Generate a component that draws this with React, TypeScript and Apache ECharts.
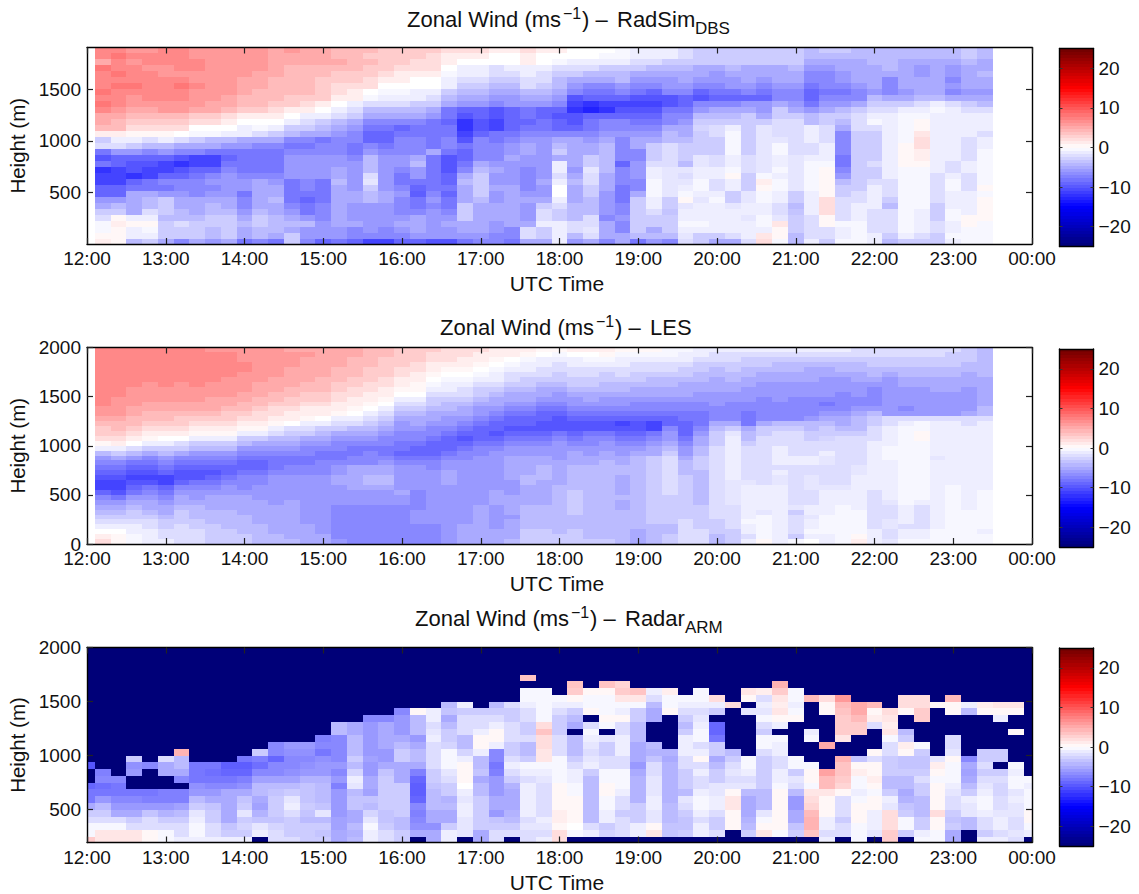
import React, { useEffect, useRef } from "react";
import * as echarts from "echarts";

const timeLabels = ["12:00","13:00","14:00","15:00","16:00","17:00","18:00","19:00","20:00","21:00","22:00","23:00","00:00"];
const colorbarTicks = [-20, -10, 0, 10, 20];
const N = -25;

// RadSim DBS: rows (top to bottom) for columns 1..30
const radsimRowsLeft = [
[7,7,6,6,7,7,6,6,6,6,6,5,6,5,5,4,4,4,3,3,3,3,2,2,2,1,1,2,1,1],
[7,8,7,7,7,7,6,6,6,6,6,5,5,5,5,4,4,3,3,3,3,2,1,1,1,0,0,1,0,0],
[5,7,6,7,7,7,7,6,6,6,6,5,5,5,5,5,4,4,3,3,2,2,1,0,0,0,0,1,0,-.5],
[8,7,7,6,6,7,7,6,6,6,6,5,4,4,4,4,4,3,3,2,2,2,0,-1,-1,-2,-1,-1,-1,-2],
[7,8,7,7,6,6,6,6,6,6,5,5,4,4,4,3,3,3,2,1,1,1,-.5,-1,-1,-2,-2,-1,-2,-3],
[7,7,7,7,7,7,6,6,6,5,5,4,4,4,3,3,3,2,1,1,0,0,-1,-2,-2,-3,-3,-2,-2,-4],
[7,8,8,7,7,8,7,6,6,5,5,4,4,4,3,2,2,2,0,0,0,0,-1,-3,-3,-4,-4,-2,-3,-4],
[8,7,7,7,7,7,6,6,6,5,4,4,4,4,3,2,1,0,-.5,-.5,-1,-1,-3,-4,-4,-5,-5,-4,-4,-5],
[7,7,6,7,7,7,6,6,5,4,4,4,3,3,3,1,1,-.5,-1,-1,-1,-2,-4,-5,-5,-6,-6,-5,-5,-6],
[8,7,6,6,6,6,6,5,5,4,4,3,3,2,1,0,-1,-2,-2,-2,-3,-3,-5,-6,-6,-7,-6,-6,-6,-7],
[7,6,5,5,6,6,5,5,4,3,3,2,1,1,0,-1,-2,-4,-4,-4,-4,-5,-8,-9,-9,-10,-9,-8,-9,-9],
[5,5,4,4,4,4,3,3,2,1,1,1,0,-1,-1,-2,-3,-5,-5,-5,-5,-6,-8,-10,-9,-10,-9,-8,-9,-10],
[5,4,3,3,3,3,2,2,1,0,0,0,-1,-2,-3,-4,-5,-7,-7,-7,-7,-8,-9,-12,-10,-11,-9,-9,-8,-9],
[4,4,2,2,2,2,0,0,0,-1,-.5,-1,-3,-3,-4,-5,-6,-8,-8,-9,-8,-8,-8,-12,-10,-11,-9,-8,-8,-9],
[1,1,.5,.5,.5,0,-.5,-.5,-1,-1,-2,-3,-4,-5,-5,-6,-7,-9,-9,-8,-8,-8,-8,-11,-9,-8,-8,-7,-7,-7],
[-3,-1,-1,-2,-1,-2,-3,-4,-4,-5,-5,-5,-7,-7,-8,-7,-7,-9,-9,-7,-7,-8,-7,-10,-7,-8,-7,-6,-6,-5],
[-2,-2,-3,-4,-4,-5,-5,-5,-6,-6,-7,-7,-8,-8,-7,-7,-8,-7,-8,-7,-7,-8,-7,-8,-7,-7,-6,-5,-6,-4],
[-8,-6,-6,-7,-6,-7,-7,-8,-8,-8,-8,-8,-7,-7,-7,-7,-8,-6,-7,-7,-7,-5,-8,-9,-7,-7,-6,-5,-6,-3],
[-10,-9,-9,-9,-9,-10,-11,-11,-9,-8,-8,-8,-6,-6,-6,-6,-7,-4,-6,-6,-5,-8,-10,-9,-7,-7,-5,-6,-6,-5],
[-8,-9,-10,-10,-11,-12,-11,-11,-8,-8,-8,-8,-6,-6,-6,-6,-6,-4,-6,-6,-4,-8,-10,-8,-5,-6,-6,-6,-6,-1],
[-12,-11,-10,-11,-11,-10,-9,-9,-7,-8,-8,-8,-6,-6,-6,-5,-6,-4,-6,-7,-6,-8,-10,-7,-4,-5,-6,-7,-6,-1],
[-11,-11,-12,-11,-9,-9,-8,-7,-6,-7,-7,-7,-6,-6,-6,-5,-6,-2,-6,-8,-6,-8,-9,-5,-3,-6,-6,-7,-6,-2],
[-11,-11,-9,-8,-7,-7,-7,-6,-6,-6,-5,-6,-8,-7,-8,-4,-6,-1.5,-6,-8,-8,-8,-9,-4,-3,-6,-6,-7,-5,-1],
[-9,-9,-8,-8,-8,-7,-7,-7,-6,-6,-5,-5,-8,-7,-8,-5,-6,-3,-6,-7,-9,-8,-8,-5,-3,-5,-5,-7,-6,0],
[-9,-9,-5,-5,-6,-6,-7,-6,-6,-8,-5,-5,-8,-8,-8,-5,-5,-4,-5,-6,-9.5,-7,-9,-5,-3,-6,-5,-6,-6,0],
[-6,-6,-5,-4,-3,-5,-5,-5,-5,-7,-5,-4,-8,-9,-8,-5,-5,-4,-5,-7,-8,-6,-8,-5,-4,-6,-5,-5,-5,-1],
[-5,-4,-5,-4,-3,-5,-5,-4,-5,-7,-5,-5,-7,-8,-7,-5,-6,-6,-6,-7,-8,-7,-8,-3,-5,-5,-5,-6,-3,-2],
[-3,-3,-5,-2,-3,-4,-5,-4,-4,-6,-4,-5,-6,-8,-7,-5,-6,-6,-6,-7,-7,-6,-7,-3,-5,-5,-5,-6,-2,-3],
[-2,.5,-1,-1,-4,-4,-4,-3,-3,-5,-3,-4,-5,-6,-7,-5,-6,-6,-6,-6,-5,-6,-6,-3,-5,-5,-5,-6,-2,-3],
[-.5,1,.5,.5,-3,-2,-3,-3,-3,-4,-3,-4,-4,-4,-6,-5,-5,-6,-6,-5,-5,-6,-5,-5,-5,-6,-5,-5,-1,-1],
[-.5,.5,-1,-.5,-3,-3,-3,-4,-3,-5,-4,-4,-5,-6,-6,-6,-7,-6,-7,-6,-5,-6,-6,-5,-5,-6,-7,-2,-3,-1],
[.5,.5,-1,-1,-3,-3,-3,-4,-3,-5,-4,-5,-3,-6,-6,-6,-7,-7,-7,-7,-6,-6,-6,-6,-6,-7,-7,-2,-3,-1],
[1,.5,-4,-3,-5,-7,-5,-6,-5,-8,-7,-8,-3,-7,-9,-8,-9,-11,-11,-9,-9,-10,-10,-8,-7,-7,-8,-5,-5,-1],
];

// RadSim DBS: columns 31..57, each top to bottom
const radsimColsRight = [
[0,0,-1,-2,-3,-5,-6,-7,-10,-11,-12,-10,-10,-9,-7,-5,-5,-5,-5,-5,-6,-5,-4,-5,-5,-5,-4,-4,-4,-2,-2,-4,-6],
[0,0,-1,-2,-4,-5,-7,-8,-9,-12,-13,-9,-8,-8,-7,-6,-5,-5,-3,-3,-1.5,-2,-2,-3,-3,-4,-4,-4,-2,-2,-1.5,-2,-5],
[0,-.5,-1,-3,-4,-5,-7,-8,-9,-11,-12,-9,-7,-7,-6,-5,-4,-4,-4,-4,-4,-5,-5,-5,-6,-6,-6,-6,-7,-5,-5,-5,-7],
[-.5,-.5,-1,-3,-4,-4,-6,-7,-9,-11,-10,-9,-7,-7,-6,-7,-7,-7,-7,-9,-7,-7,-7,-8,-8,-8,-7,-7,-6,-7,-7,-5,-5],
[-1,-1,-2,-3,-5,-6,-7,-8,-10,-11,-10,-9,-8,-7,-6,-5,-5,-7,-7,-6,-6,-6,-7,-7,-5,-3,-3,-3,-3,-3,-3,-4,-8],
[-1,-1,-2,-4,-5,-6,-7,-9,-10,-11,-10,-9,-8,-7,-6,-5,-3,-3,-3,-2,-1,-1,-.5,-.5,-.5,-1,-1,-2,-3,-3,-5,-4,-6],
[-1,-1,-3,-4,-5,-6,-6,-7,-10,-10,-8,-7,-7,-5,-4,-4,-2,-2,-2,-2,-1.5,-1.5,-1.5,-1.5,-1.5,-3,-3,-3.5,-3,-3,-3,-4,-7],
[-2,-2,-3,-4,-5,-5,-6,-7,-9,-9,-8,-7,-6,-5,-5,-4,-3,-3,-3,-4,-1.5,-2,-1.5,-1,-.5,.5,-1.5,-1,-1,-.5,-1,-1.5,-2],
[-3,-3,-3,-5,-5,-6,-7,-9,-10,-7,-6,-4,-3,-2.5,-3,-3,-3,-3,-1.5,-1.5,-1,-1,-.5,-.5,-1,-1.5,-1,-1,-1,-.5,-1,-3,-3],
[-3,-3,-3,-5,-6,-6,-7,-8,-9,-7,-5,-4,-3,-2,-2,-3,-3,-3,-2,-2,-1,-1,-2,-2,-1,-.5,-1,-1,-1,-1,-1,-3,-5],
[-3,-3,-3,-4,-5,-6,-6,-8,-9,-7,-5,-4,-3,-1,-.5,-.5,-.5,-.5,-1,-1,-.5,.5,-1,-1,-3,-3,-1.5,-1,-1,-1,-1,-2,-5],
[-3,-3,-3,-5,-5,-5,-6,-7,-9,-6,-5,-3,-3,-3,-3,-3,-3,-3,-2,-2,-2,-3,-3,-3,-1.5,-1.5,-1,-1,-1.5,-1,-1,-1,-2],
[-3,-3,-3,-5,-5,-6,-7,-8,-9,-6,-6,-5,-3,-1.5,-1.5,-1.5,-1.5,-1.5,-1.5,-1.5,-1.5,-.5,1,.5,-.5,-.5,-1,-1,-.5,-.5,-1,1.5,2],
[-3,-3,-3,-5,-5,-5,-6,-7,-7,-5,-3,-3,-2,-2,-2,-1.5,-.5,-.5,-1,-1,-.5,-1,-.5,-.5,-1,-1,-2,-2,-1.5,1.5,.5,.5,-.5],
[-3,-3,-3,-4,-5,-5,-6,-7,-7,-6,-5,-3,-2,-2,-2,-2,-2,-2,-1.5,-1.5,-1.5,-1.5,-1.5,-1.5,-3,-3,-4,-3.5,-3,-3,-3,-4,-4],
[-4,-4,-5,-6,-7,-7,-8,-9,-9,-8,-6,-4,-4,-1,-1,-1,-2,-2,-1,-.5,-.5,-.5,-.5,-.5,-1,-1,-1,-1,-2,-2,-2,-2,-1],
[-3,-4,-5,-6,-7,-7,-7,-8,-7,-6,-5,-3,-3,-2,-2,-2,-1,-1,-1,-.5,.5,.5,.5,.5,.5,2,2,2,.5,.5,-2,-2,-3],
[-3,-4,-5,-5,-6,-6,-7,-8,-7,-6,-4,-3,-4,-5,-7,-7,-7,-7,-8,-8,-7,-6,-4,-3,-3,-2,-2,-2,-2,-.5,-1,-1,-.5],
[-4,-4,-5,-5,-5,-5,-6,-7,-7,-5,-3,-2,-2,-2,-3,-3,-3,-3,-3,-3,-3,-3,-3,-3,-2,-2,-1,-1,-1,-.5,-.5,-.5,-.5],
[-4,-4,-4,-5,-5,-5,-5,-6,-4,-3,-2,-1,-.5,-2,-3,-3,-3,-3,-3,-2,-3,-3,-2,-1,-1,-1,-1,-2,-2,-2,-2,-1,-1],
[-4,-4,-4,-4,-5,-7,-7,-7,-5,-3,-2,-1,-1,-1,-1,-1,-1,-1,-1,-1,-1,-1,-2,-2,-2,-3,-4,-2,-2,-2,-2,-3,-4],
[-4,-4,-5,-5,-5,-5,-5,-6,-5,-3,-1,-.5,-.5,-.5,-.5,-.5,.5,.5,.5,.5,-.5,-.5,-.5,-.5,-.5,-.5,-.5,-.5,-.5,-.5,-.5,-1,-3],
[-4,-4,-5,-6,-6,-5,-5,-5,-4,-2,-1,-.5,.5,.5,1.5,2,2,1,1,.5,-.5,-.5,-.5,-.5,-.5,-.5,-.5,-1,-1,-1,-1,-2,-3],
[-4,-4,-5,-5,-5,-5,-5,-5,-4,-1,-.5,-1,-1,-1,-1,-1,-1,-1,-1,-1,-1,-2,-2,-2,-2,-2,-3,-3,-3,-2,-2,-3,-3],
[-4,-4,-5,-6,-6,-7,-6,-7,-5,-2,-1,-1,-1,-1,-1,-1,-1,-1,-1,-2,-2,-1,-.5,-.5,-1,-1,-1,-.5,-.5,-1,-1,-.5,-1],
[-3,-3,-4,-5,-5,-5,-5,-6,-5,-3,-2,-1,-1,-1,-1,-2,-2,-2,-2,-1,-1,-2,-2,-2,-1,-1,-1,-1,.5,.5,-.5,-.5,-.5],
[-4,-4,-5,-5,-4,-5,-5,-6,-5,-4,-2,-1,-1,-1,-2,-1,-1,-.5,-.5,-.5,-.5,-.5,-.5,.5,-.5,.5,.5,.5,.5,-.5,-.5,-.5,-.5],
];

// LES: columns 1..57, each top (1975 m) to bottom (25 m)
const lesCols = [
[7,7,7,7,7,7,7,7,7,7,7,7,6,6,5,4,3,3,2,.5,-1,-4,-6,-7,-8,-9,-10,-11,-11,-9,-7,-6,-5,-4,-3,-2,-1,0,1,2],
[7,7,7,7,7,7,7,7,7,7,6,6,6,6,5,4,4,3,2,1,-1,-3,-5,-7,-8,-9,-10,-11,-11,-10,-8,-6,-5,-4,-3,-2,-1,0,.5,.5],
[7,7,7,7,7,7,7,7,6,6,6,6,5,5,4,4,3,2,1,0,-2,-4,-6,-8,-9,-10,-11,-10,-9,-8,-6,-5,-4,-3,-3,-2,-1,-1,-.5,-.5],
[7,7,7,7,7,7,7,6,6,6,6,5,5,4,4,3,2,1,.5,-1,-3,-5,-7,-8,-9,-10,-11,-10,-8,-7,-6,-5,-5,-4,-3,-2,-2,-1,-1,-1],
[7,7,7,7,7,7,7,7,6,6,6,5,5,4,4,3,2,1,0,-1,-3,-4,-6,-7,-8,-9,-11,-11,-9,-8,-7,-6,-5,-5,-4,-3,-3,-2,-2,-1],
[7,7,7,7,7,7,7,6,6,6,6,5,5,4,3,3,2,1,0,-2,-3,-5,-7,-8,-9,-10,-10,-9,-7,-6,-5,-5,-4,-3,-3,-3,-2,-2,-2,-2],
[7,7,7,7,7,7,7,7,6,6,6,5,5,4,3,2,1,.5,-1,-3,-4,-6,-7,-8,-9,-10,-10,-8,-7,-6,-6,-5,-4,-4,-4,-3,-3,-2,-2,-2],
[6,7,7,7,7,7,7,6,6,6,5,5,5,4,3,2,1,.5,-1,-3,-4,-6,-7,-8,-9,-10,-9,-8,-7,-6,-5,-5,-5,-4,-4,-4,-3,-3,-3,-3],
[6,7,7,7,7,7,6,6,6,6,5,5,4,3,3,2,1,.5,-1,-3,-4,-6,-7,-8,-9,-9,-8,-7,-6,-6,-5,-5,-5,-4,-4,-4,-4,-3,-3,-3],
[6,6,6,7,7,6,6,6,6,5,5,4,4,3,2,1,.5,-1,-3,-4,-6,-7,-8,-9,-9,-8,-7,-7,-7,-6,-5,-5,-5,-5,-4,-4,-4,-4,-3,-3],
[6,6,6,6,6,6,6,5,5,5,4,4,3,2,2,1,.5,-1,-3,-5,-6,-7,-8,-9,-9,-8,-7,-7,-6,-6,-6,-5,-5,-5,-5,-5,-4,-4,-4,-4],
[6,6,6,6,6,6,5,5,5,4,4,3,2,2,1,.5,-1,-2,-4,-5,-6,-7,-8,-8,-8,-7,-6,-6,-6,-6,-6,-6,-5,-5,-5,-5,-5,-5,-4,-4],
[5,6,6,6,5,5,5,5,4,4,3,3,2,1,1,0,-2,-3,-4,-5,-6,-7,-8,-8,-7,-7,-6,-6,-6,-6,-6,-5,-5,-5,-5,-5,-5,-5,-5,-4],
[5,6,5,5,5,5,5,4,4,3,3,2,1,1,.5,-1,-2,-3,-5,-6,-7,-7,-8,-8,-7,-7,-6,-6,-6,-6,-6,-6,-6,-6,-6,-6,-5,-5,-5,-5],
[5,5,5,5,5,5,4,4,4,3,3,2,1,1,0,-1,-3,-4,-5,-6,-7,-8,-8,-7,-7,-7,-6,-6,-6,-6,-6,-6,-6,-6,-6,-6,-6,-6,-5,-5],
[5,5,5,5,4,4,4,3,3,2,2,1,1,.5,-1,-2,-3,-5,-6,-7,-7,-8,-8,-7,-6,-6,-5,-5,-6,-6,-6,-6,-7,-7,-7,-7,-7,-7,-7,-6],
[5,5,4,4,4,4,3,3,2,2,1,1,.5,0,-1,-2,-4,-5,-6,-7,-8,-8,-7,-7,-5,-5,-5,-5,-5,-6,-6,-6,-7,-7,-7,-7,-7,-7,-7,-7],
[4,4,4,4,3,3,3,2,2,1,1,.5,0,-1,-2,-3,-4,-5,-6,-7,-8,-7,-7,-7,-5,-5,-4,-4,-5,-6,-6,-6,-7,-7,-7,-7,-7,-7,-7,-7],
[4,4,3,3,3,3,2,2,1,1,.5,0,-1,-2,-3,-4,-5,-6,-7,-7,-8,-8,-7,-6,-5,-5,-4,-4,-5,-6,-6,-6,-7,-7,-7,-7,-7,-7,-7,-7],
[3,3,3,3,2,2,1,1,.5,0,-1,-2,-3,-4,-5,-6,-6,-7,-7,-8,-8,-9,-8,-7,-6,-6,-6,-6,-6,-5,-6,-6,-7,-7,-7,-7,-7,-7,-7,-7],
[3,3,3,2,2,1,1,.5,.5,0,-1,-2,-3,-4,-5,-5,-6,-7,-7,-8,-9,-9,-8,-7,-6,-6,-6,-6,-6,-7,-7,-7,-7,-6,-6,-6,-7,-7,-7,-7],
[3,2,2,1,1,.5,0,-.5,-1,-2,-3,-3,-4,-5,-5,-6,-7,-7,-8,-9,-9,-9,-8,-7,-7,-6,-6,-6,-6,-6,-6,-6,-6,-6,-6,-6,-7,-7,-7,-7],
[2,2,2,1,.5,0,-.5,-1,-1,-2,-3,-4,-4,-5,-6,-6,-7,-8,-9,-9,-9,-8,-7,-6,-6,-5,-5,-5,-6,-6,-6,-6,-6,-6,-6,-6,-6,-6,-6,-6],
[2,2,1,1,.5,0,-.5,-1,-2,-2,-3,-4,-5,-5,-6,-7,-8,-9,-10,-9,-8,-7,-7,-6,-6,-6,-6,-6,-6,-6,-6,-6,-6,-6,-6,-6,-5,-5,-5,-5],
[2,1,1,.5,0,-.5,-1,-2,-3,-3,-4,-5,-6,-6,-7,-8,-9,-9,-9,-8,-7,-7,-6,-6,-6,-6,-6,-6,-6,-6,-6,-6,-5,-5,-5,-5,-5,-5,-5,-5],
[1,1,.5,0,-.5,-1,-1,-2,-3,-4,-5,-5,-6,-7,-8,-9,-9,-10,-9,-8,-7,-6,-6,-6,-6,-6,-6,-6,-6,-5,-5,-5,-6,-6,-6,-6,-6,-5,-5,-5],
[1,1,0,-.5,-1,-2,-2,-3,-4,-5,-5,-6,-7,-8,-9,-9,-10,-9,-8,-7,-6,-6,-5,-5,-5,-5,-5,-6,-6,-6,-5,-5,-5,-5,-6,-5,-5,-5,-5,-4],
[1,.5,-.5,-1,-1,-2,-3,-3,-4,-5,-5,-6,-7,-8,-9,-9,-10,-9,-8,-7,-6,-6,-5,-5,-5,-5,-4,-4,-5,-5,-5,-5,-4,-4,-4,-4,-4,-3,-3,-3],
[.5,0,-1,-1,-2,-2,-3,-4,-5,-5,-6,-7,-8,-9,-9,-10,-10,-9,-8,-7,-6,-6,-5,-5,-4,-4,-4,-5,-5,-5,-5,-5,-4,-4,-4,-4,-4,-3,-3,-3],
[.5,-.5,-1,-2,-2,-3,-3,-4,-5,-6,-6,-7,-8,-9,-10,-10,-10,-8,-7,-6,-6,-6,-6,-5,-5,-5,-5,-5,-4,-4,-4,-4,-4,-4,-4,-4,-4,-4,-3,-3],
[1,0,-1,-1,-2,-2,-3,-3,-4,-5,-6,-6,-7,-8,-9,-10,-10,-9,-8,-7,-6,-5,-5,-5,-4,-4,-4,-4,-4,-3,-3,-3,-3,-3,-4,-4,-4,-3,-3,-3],
[1,0,-.5,-1,-2,-2,-3,-3,-4,-5,-5,-6,-7,-8,-9,-10,-10,-8,-7,-7,-6,-6,-5,-5,-4,-4,-4,-4,-4,-4,-4,-4,-4,-4,-4,-4,-4,-4,-4,-3],
[1,.5,-.5,-1,-2,-3,-3,-4,-4,-5,-6,-6,-7,-8,-9,-10,-10,-8,-7,-6,-6,-5,-5,-4,-4,-4,-4,-4,-4,-4,-4,-4,-4,-4,-4,-4,-4,-4,-4,-3],
[.5,-.5,-1,-1,-2,-2,-3,-4,-4,-5,-6,-6,-7,-8,-9,-11,-10,-9,-8,-7,-6,-6,-5,-5,-4,-4,-5,-5,-5,-5,-4,-5,-5,-4,-4,-4,-4,-4,-4,-4],
[.5,-.5,-1,-2,-2,-3,-3,-4,-5,-5,-6,-7,-7,-8,-9,-10,-10,-9,-8,-7,-6,-5,-4,-4,-4,-4,-4,-4,-4,-4,-4,-4,-4,-4,-4,-4,-4,-5,-5,-5],
[.5,-.5,-1,-2,-2,-3,-4,-4,-5,-5,-6,-7,-7,-8,-9,-11,-11,-8,-7,-6,-5,-5,-3,-3,-3,-3,-3,-3,-3,-3,-3,-3,-3,-3,-3,-3,-4,-4,-4,-4],
[-.5,-.5,-1,-2,-2,-3,-4,-4,-5,-5,-6,-7,-7,-8,-9,-9,-7,-6,-6,-5,-4,-3,-2,-2,-2,-2,-2,-2,-2,-2,-3,-3,-3,-3,-3,-3,-4,-4,-3,-3],
[-.5,-1,-1,-2,-3,-3,-4,-5,-5,-5,-6,-7,-7,-8,-8,-9,-9,-9,-8,-7,-6,-6,-5,-4,-4,-4,-3,-3,-3,-3,-3,-3,-3,-3,-3,-2,-2,-2,-2,-2],
[-1,-1,-2,-3,-3,-4,-4,-5,-5,-6,-6,-7,-7,-8,-8,-8,-7,-6,-5,-5,-4,-4,-3,-3,-3,-4,-4,-4,-4,-4,-4,-4,-3,-3,-3,-3,-3,-2,-2,-2],
[-1,-2,-2,-3,-4,-4,-5,-5,-5,-6,-6,-6,-7,-7,-7,-5,-4,-3,-3,-3,-2,-2,-2,-2,-2,-2,-2,-2,-2,-2,-2,-2,-2,-2,-2,-3,-3,-3,-4,-4],
[-1,-2,-2,-3,-3,-4,-4,-5,-5,-6,-6,-7,-7,-7,-7,-5,-3,-1.5,-1,-1,-1,-1,-1,-1,-1,-1,-1,-1.5,-1.5,-1.5,-1.5,-1.5,-2,-2,-2,-2,-2,-3,-3,-3],
[-1,-2,-3,-3,-4,-4,-5,-5,-6,-6,-6,-7,-7,-8,-8,-8,-5,-4,-4,-3,-2,-2,-2,-2,-2,-2,-2,-1.5,-1,-1,-1,-1,-1,-1,-1,-.5,-1,-1,-2,-1],
[-1,-2,-3,-3,-4,-5,-5,-6,-6,-6,-7,-7,-7,-7,-7,-5,-3,-3,-2,-2,-2,-2,-2,-2,-2,-2,-2,-2,-1,-1,-1,-1,-1,-1.5,-.5,-.5,-.5,-.5,-.5,.5],
[-1,-2,-3,-4,-4,-5,-5,-6,-6,-6,-6,-7,-7,-7,-7,-4,-3,-2,-2,-2,-1,-1,-1,-1,-2,-1,-1.5,-1.5,-1,-1,-1,-1,-1,-1,-1,-1,-1,-1,-1,-1],
[-1,-2,-3,-4,-4,-5,-5,-6,-6,-6,-7,-7,-7,-7,-7,-4,-3,-2,-2,-2,-2,-2,-1,-1,-2,-2,-2,-2,-2,-2,-2,-2,-1.5,-3,-2,-2,-2,-2,-3,-.5],
[-1,-2,-3,-4,-5,-5,-5,-6,-6,-6,-7,-7,-7,-7,-6,-4,-4,-3,-3,-2,-2,-2,-1,-1,-2,-2,-1.5,-1.5,-1.5,-2,-2,-2,-1,-1,-1.5,-1,-1,-.5,-1,0],
[-1,-2,-3,-4,-5,-5,-6,-6,-6,-6,-7,-8,-7,-6,-5,-4,-3,-3,-2.5,-2,-2,-1,-1.5,-1.5,-2,-2,-2,-2,-1.5,-1,-1,-1,-1,-1,-.5,-.5,-.5,-.5,-1,-1],
[-1,-2,-3,-4,-4,-5,-6,-6,-6,-7,-7,-7,-7,-6,-5,-5,-4,-3,-2,-2,-2,-2,-2,-2,-2,-2,-2,-2,-1.5,-1,-1,-1,-.5,-.5,-.5,-.5,-.5,-.5,-.5,-.5],
[-2,-2,-3,-4,-4,-5,-5,-6,-6,-6,-7,-7,-6,-5,-4,-4,-4,-3,-2,-2,-2,-2,-2,-2,-1.5,-1.5,-1,-1,-1,-1,-1,-1,-1,-.5,-.5,-.5,-.5,-.5,.5,1],
[-2,-2,-3,-3,-4,-4,-5,-6,-7,-7,-7,-7,-6,-4,-3,-3,-2,-2,-2,-1,-1,-1,-1,-1,-1,-1,-1,-1,-1,-2,-2,-2,-2,-2,-2,-2,-2,-1,-1,-1],
[-2,-2,-3,-3,-4,-5,-6,-6,-6,-6,-6,-6,-6,-6,-2,-2,-1,-1,-1,-1,-.5,-.5,-.5,-1,-1,-1,-1,-1,-1,-1,-1,-1.5,-2,-2,-2,-1.5,-1.5,-2,-2,-1.5],
[-2,-2,-3,-3,-4,-4,-5,-5,-6,-6,-6,-6,-7,-6,-2,-1,-.5,-.5,-.5,-.5,-.5,-.5,-.5,-.5,-.5,-.5,-.5,-.5,-.5,-.5,-.5,-.5,-1,-1,-1,-1,-2,-1,-1,-.5],
[-2,-2,-3,-3,-4,-4,-5,-5,-6,-6,-6,-6,-6,-6,-2,-.5,-.5,.5,.5,-.5,-.5,-.5,-.5,-.5,-.5,-.5,-.5,-.5,-.5,-.5,-.5,-1,-2,-2,-2,-2,-2,-1,-1,-.5],
[-2,-2,-3,-3,-4,-4,-5,-5,-5,-6,-6,-6,-6,-6,-2,-1,-1,-1,-1,-1,-1,-1,-1.5,-1,-1,-1,-1,-1,-1,-1,-1,-1,-1,-1,-1,-1,-1,-.5,-.5,-.5],
[-2,-3,-3,-3,-4,-4,-5,-5,-5,-6,-6,-6,-6,-6,-2,-1,-1,-1,-1,-1,-1,-1,-1,-1,-1,-1,-1,-1,-.5,-.5,-.5,-.5,-.5,-.5,-.5,-.5,-.5,-.5,-.5,-.5],
[-3,-3,-3,-4,-4,-5,-5,-5,-6,-6,-6,-6,-6,-5,-2,-2,-1,-1,-1,-1,-1,-1,-1,-1,-1,-1,-1,-1,-1,-1,-1,-1,-1,-.5,-.5,-.5,-.5,-.5,-.5,-.5],
[-4,-4,-4,-4,-4,-4,-5,-5,-5,-5,-5,-5,-4,-4,-2,-1,-1,-1,-1,-1,-1,-1,-1,-1,-1,-1,-1,-1,-1,-.5,-.5,-.5,-.5,-.5,-.5,-.5,-.5,-1,-.5,-.5],
];

// Radar ARM: rows top to bottom, columns 0..60
const radarRows = [
[N,N,N,N,N,N,N,N,N,N,N,N,N,N,N,N,N,N,N,N,N,N,N,N,N,N,N,N,N,N,N,N,N,N,N,N,N,N,N,N,N,N,N,N,N,N,N,N,N,N,N,N,N,N,N,N,N,N,N,N,N],
[N,N,N,N,N,N,N,N,N,N,N,N,N,N,N,N,N,N,N,N,N,N,N,N,N,N,N,N,N,N,N,N,N,N,N,N,N,N,N,N,N,N,N,N,N,N,N,N,N,N,N,N,N,N,N,N,N,N,N,N,N],
[N,N,N,N,N,N,N,N,N,N,N,N,N,N,N,N,N,N,N,N,N,N,N,N,N,N,N,N,N,N,N,N,N,N,N,N,N,N,N,N,N,N,N,N,N,N,N,N,N,N,N,N,N,N,N,N,N,N,N,N,N],
[N,N,N,N,N,N,N,N,N,N,N,N,N,N,N,N,N,N,N,N,N,N,N,N,N,N,N,N,N,N,N,N,N,N,N,N,N,N,N,N,N,N,N,N,N,N,N,N,N,N,N,N,N,N,N,N,N,N,N,N,N],
[N,N,N,N,N,N,N,N,N,N,N,N,N,N,N,N,N,N,N,N,N,N,N,N,N,N,N,N,3.5,N,N,N,N,N,N,N,N,N,N,N,N,N,N,N,N,N,N,N,N,N,N,N,N,N,N,N,N,N,N,N,N],
[N,N,N,N,N,N,N,N,N,N,N,N,N,N,N,N,N,N,N,N,N,N,N,N,N,N,N,N,N,N,N,3.5,N,3.5,2.5,N,N,N,N,N,N,N,N,N,4.5,N,N,N,N,N,N,N,N,N,N,N,N,N,N,N,N],
[N,N,N,N,N,N,N,N,N,N,N,N,N,N,N,N,N,N,N,N,N,N,N,N,N,N,N,N,-.5,-.5,N,3,.5,.5,3,3.5,-1,1,N,-.5,N,N,1.5,1,3,-.5,N,N,N,N,N,N,N,N,N,N,N,N,N,N,N],
[N,N,N,N,N,N,N,N,N,N,N,N,N,N,N,N,N,N,N,N,N,N,N,N,N,N,N,N,-.5,-.5,-.5,.5,-.5,-.5,1.5,1.5,-2,-.5,-.5,-.5,2,N,.5,-2,1.5,-.5,4,2,6,N,N,N,2,2,N,4,N,N,N,N,N],
[N,N,N,N,N,N,N,N,N,N,N,N,N,N,N,N,N,N,N,N,N,N,N,-4,-1,N,-4,-2,-1,-.5,-1,-1,-.5,-.5,-.5,-.5,-4,-.5,-1,-1,-1,2,N,-1,1,-1,N,.5,4,5,4,N,2,2,.5,.5,-1,1,1.5,1.5,N],
[N,N,N,N,N,N,N,N,N,N,N,N,N,N,N,N,N,N,N,N,-7,.5,-1,-3.5,-3,-3,-3,-3,-2,-.5,-2,-3,.5,-.5,-1,-3,-5,.5,-2,-2,-3,N,-1.5,-1.5,1.5,-.5,N,.5,3.5,5,.5,2,.5,3,N,.5,-4,.5,.5,.5,N],
[N,N,N,N,N,N,N,N,N,N,N,N,N,N,N,N,N,N,-7,-7,-6,-4,-1,-5,-2,-2,-2,-3,-2,-.5,-3,-4,N,.5,.5,-3,-5,N,-3,-1.5,N,N,N,-.5,.5,.5,N,N,3,4,1,1.5,N,3,N,N,N,N,-1,N,N],
[N,N,N,N,N,N,N,N,N,N,N,N,N,N,N,N,-4,-5,-6,-5,-6,-4,-2,-4,-2,-2,-1,-2,-3,2,-3,-5,-2,-.5,-2,-4,N,N,-4,-1,-9,N,N,-2,-1,N,N,N,3,3,-2,1,N,N,N,N,N,N,N,N,N],
[N,N,N,N,N,N,N,N,N,N,N,N,N,N,N,N,-4,-5,-6,-5,-6,-4,-1.5,-3,-2,-1,.5,-2,-3,3.5,-3,N,-.5,N,-2,-4,N,N,-3,-.5,-9,N,N,-3,N,N,-1,N,3,3,N,1.5,-4,N,N,N,N,N,N,.5,N],
[N,N,N,N,N,N,N,N,N,N,N,N,N,N,N,-7.5,-7,-4,-6,-5,-5,-6,-1,-3,-4,.5,.5,-2,-2,2,-2,-4,-1,-1.5,-1,-4,N,N,-1,-.5,-8,N,N,-.5,-.5,N,-.5,N,1.5,N,N,-.5,-3,N,N,-2,N,N,N,N,N],
[N,N,N,N,N,N,N,N,N,N,N,N,-7,-6,-6,-7,-7,-4,-6,-5,-4,-5,-2,-2.5,-4,.5,-1,-3,-4,2,-2,-4,-1.5,-3,-1,-5,-4,N,-1,-2,-3,N,N,-.5,-1,N,N,5,N,N,N,-2,1,-.5,N,-2,N,N,N,N,N],
[N,N,N,N,N,N,4.5,N,N,N,N,-3,-7,-6.5,-6.5,-8,-7,-4,-6,-6,-3,-4,-2,-.5,-2.5,-1,-7,-3,-4,1.5,-2,-4,-2,-3,-1,-5,-4.5,-4.5,-1,-1,-3,-4,N,-2,-1,N,N,N,N,N,.5,-2,.5,-3,N,-1.5,N,-3,-3,N,N],
[N,N,N,-3,N,-2,-4,N,N,N,-8,-7.5,-9,-7,-7,-6.5,-7,-3,-5.5,-6,-3,-4,-2,-.5,-1,-4,-7,-2,-3,1.5,-.5,-3,-1.5,-2,-2,-5,-3.5,-5,-2,.5,-5,-3,-.5,-3,-2,-.5,N,N,4.5,-3.5,-2,-3,-3.5,-3.5,-1.5,.5,-7,-3,-3,N,N],
[-10,N,N,-6.5,-7,-5,-4,-8,-8,-9.5,-9.5,-8.5,-7,-7,-6.5,-6,-6,-4,-6,-5,-5,-5,-2,-.5,.5,-4,-8,-1,-.5,-.5,-.5,-2,-1,-2,-2,-6,-2,-4.5,-2,-2,-4,-2,-.5,-3,-2,-.5,-.5,N,3.5,.5,.5,-3,-3.5,-3.5,1,-.5,-5,-2,N,-.5,N],
[N,-7.5,N,-6,N,-5,-5,-8,-8.5,-9,-9,-7,-7,-6.5,-6,-6,-7,-2.5,-6,-3.5,-5,-7.5,-3,-1.5,.5,-3.5,-7.5,-2,-1,-1,-.5,-1,-3,-.5,-.5,-5,-2,-4.5,-3,-1,-3,-1.5,-1,-3,-1,-3,.5,5.5,3.5,1,.5,-3,-3,-3,.5,-.5,-5.5,-3,-3,-1,N],
[N,-7,-7,N,N,N,-7,-8,-8,-8,-7.5,-5.5,-5.5,-5.5,-4.5,-4.5,-6,-1,-5,-3,-5,-9,-3,-2,.5,-5,-6,-3,-2,-1.5,-.5,-1,-4,-.5,-.5,-4.5,-1.5,-4.5,-3,-2,-3,-2,-2,-3,-1,-1.5,.5,4,3,-.5,1,-4,-4,-2,-.5,-.5,-5,-2,-2,-.5,-.5],
[-9,-8.5,-8,N,N,N,N,-6.5,-7,-7,-6.5,-4,-4,-4,-3.5,-4,-7.5,-1.5,-5,-3,-3,-9.5,-3.5,-3,0,-4,-6,-4.5,-1,-2,.5,-.5,-4,.5,-.5,-4.5,-1.5,-4.5,-3,-2,-1.5,-1.5,-1.5,-3,-.5,-2,-.5,4,2.5,-.5,.5,-4,-4,-3,.5,-1,-4,-1.5,-2.5,-.5,-1],
[-8,-8,-8,-8,-8,-7.5,-7.5,-6,-6,-5,-5,-4,-3.5,-3,-3.5,-4,-6,-4,-5.5,-3,-3,-9.5,-4,-3,-1,-4,-6,-5,-1,-2,.5,-.5,-4,.5,-1,-4.5,-1.5,-4.5,-4,-1,-1.5,.5,-4,-4,.5,-4,1.5,1.5,.5,-1,-.5,-3,-5,-3,.5,-1.5,-3,-1,-2.5,-1.5,-.5],
[-8,-6,-7,-7,-7.5,-7.5,-7.5,-4,-5,-5,-3.5,-5,-3,-1.5,-3.5,-4,-6,-3.5,-3.5,-3,-3,-9,-4,-4.5,-1.5,-3,-5,-5,-1,-2,.5,.5,-4,-.5,-2,-4.5,-1,-4.5,-1.5,-.5,-1,1.5,-5,-4,.5,-6,2,.5,-2,-.5,.5,-1,-4.5,-4,.5,-2,-1,-.5,-2,-1,-.5],
[-5,-4,-6,-6,-6,-6,-5.5,-3,-3.5,-5,-3,-5.5,-3,-1,-3,-3.5,-6,-3.5,-4,-3,-3,-7,-4,-4,-1,-3,-5,-5,-1,-2,.5,.5,-4,-.5,-2,-3,-1,-4,-2,-.5,-1,1.5,-5,-4,.5,-6,2.5,.5,-2,.5,.5,-1.5,-3.5,-4,.5,-2,-1.5,-.5,-2,-1.5,-.5],
[-3,-3,-5,-5,-3.5,-4.5,-4,-1.5,-3,-5,-1.5,-4.5,-3,-2,-3.5,-1.5,-6,-5,-2.5,-3.5,-3,-7.5,-5,-5,-1,-3,-6,-4.5,-1,-2,1,.5,-4,-1,-3,-3,-1.5,-4,-3,-1,-2,.5,-5,-1.5,.5,-5,4,.5,-2,.5,-1,2,-3,-4,2,-3,-1.5,-1,-1.5,-1.5,.5],
[-2,-2,-2,-3,-2,-3,-3,-1,-3,-5,-3,-3.5,-3.5,-3,-4,-4,-5.5,-5,-1.5,-3.5,-4,-7,-5,-5,-1.5,-3,-3.5,-4,-2,-1,1,.5,-4,-1,-2,-3,-1.5,-4,-3.5,-2,-3,.5,-4.5,-.5,.5,-5,4.5,-1,-3,.5,-1,2,-.5,-3,.5,-3.5,-4,-2,-1,-2,.5],
[-.5,-.5,-.5,-2,-2,-2,-2,-.5,-2,-3.5,-2.5,-1.5,-2.5,-3,-3,-3,-5.5,-4,-.5,-3,-4,-6.5,-6.5,-3,-1.5,-3,-3,-3,-1.5,-1.5,.5,0,-2,-3,-2,-1,.5,-3.5,-3.5,-1,-3,.5,-4,.5,.5,-3.5,4.5,-1,-2,-.5,-1,2,-.5,-3,.5,-3,-4,-2,-1,-2,-.5],
[-.5,1.5,1.5,1.5,.5,-.5,-2,-.5,-2,-3,-3,-1,-2,-3,-3,-3.5,-5,-4.5,-1,-2,-3,-5,-5,-1,-1.5,-5,-2,-2,-2,-2,2,-.5,-1,-2.5,-2,-1,1.5,-3.5,-3,-1,-2,N,-3,1.5,-.5,-3,3.5,-2,-2,-.5,-1.5,3,-3,-1,-.5,-5,N,-3,-2,-1.5,-1],
[3,1.5,1.5,1.5,.5,-.5,-1,-1,-1,-1,-1,N,-2,-2,-3,-3,-5,-4,-1,-2,-3,N,-5,-1,N,-5,-2,N,-2,-1,2,N,N,N,N,N,N,N,N,N,N,N,N,N,N,N,N,-1,N,-.5,N,3,N,-.5,-.5,-5,N,-1,-1,-2,N],
];

const gridBoxes = [
  { top: 47.5, height: 196.5, cbTop: 48.5 },
  { top: 347.5, height: 196.5, cbTop: 349 },
  { top: 647.5, height: 195, cbTop: 648 },
];
const LEFT = 87, WIDTH = 945, CB_LEFT = 1059.5, CB_WIDTH = 34, CB_HEIGHT = 198;
const FONT = "Liberation Sans, Arial, sans-serif";
const INK = "#111";

function wind(v: number): string {
  const stops: [number, number[]][] = [[-25,[0,0,120]],[-15,[0,0,255]],[0,[255,255,255]],[15,[255,0,0]],[25,[110,0,0]]];
  const c = Math.max(-25, Math.min(25, v));
  for (let i = 0; i < 4; i++) {
    const [a, ca] = stops[i], [b, cb] = stops[i + 1];
    if (c <= b) {
      const t = (c - a) / (b - a);
      return `rgb(${ca.map((x, j) => Math.round(x + (cb[j] - x) * t)).join(",")})`;
    }
  }
  return "#fff";
}

function cells(dx: number, dy: number) {
  return (_p: any, api: any) => {
    const x = api.value(0), y = api.value(1);
    const a = api.coord([x - dx, y + dy]), b = api.coord([x + dx, y - dy]);
    const x0 = Math.round(a[0]), y0 = Math.round(a[1]), x1 = Math.round(b[0]), y1 = Math.round(b[1]);
    return { type: "rect", shape: { x: x0, y: y0, width: x1 - x0, height: y1 - y0 }, style: { fill: wind(api.value(2)) } };
  };
}

const radsimData: number[][] = [];
radsimRowsLeft.forEach((row, t) => row.forEach((v, c) => radsimData.push([(c + 1) * 0.2, 52 + 58 * (32 - t) - 29, v])));
radsimColsRight.forEach((col, c) => col.forEach((v, t) => radsimData.push([(c + 31) * 0.2, 52 + 58 * (32 - t) - 29, v])));
const lesData: number[][] = [];
lesCols.forEach((col, c) => col.forEach((v, i) => lesData.push([(c + 1) * 0.2, 1975 - 50 * i, v])));
const radarData: number[][] = [];
radarRows.forEach((row, t) => row.forEach((v, c) => radarData.push([c * 0.2, 243 + 62.8 * (28 - t) - 31.4, v])));
const barLevels: number[][] = [];
for (let i = 0; i < 64; i++) barLevels.push([0.5, -25 + (i + 0.5) * 50 / 64, -25 + (i + 0.5) * 50 / 64]);

function titleParts(x: number, base: number, label: string, sub: string | null, subX: number) {
  const st = (text: string, size: number) => ({ text, fontSize: size, fontFamily: FONT, fill: INK, textVerticalAlign: "bottom" });
  const els: any[] = [
    { type: "text", x, y: base, style: st("Zonal Wind (ms", 22) },
    { type: "text", x: x + 156, y: base - 9, style: st("\u22121", 16) },
    { type: "text", x: x + 175, y: base, style: st(") \u2013", 22) },
    { type: "text", x: x + 210, y: base, style: st(label, 22) },
  ];
  if (sub) els.push({ type: "text", x: x + subX, y: base + 7, style: st(sub, 17) });
  return els;
}

export default function App() {
  const ref = useRef<HTMLDivElement>(null);
  useEffect(() => {
    const chart = echarts.init(ref.current!, undefined, { renderer: "svg" });
    const ranges = [
      { min: 4, max: 1902, ticks: [500, 1000, 1500], data: radsimData, dy: 29 },
      { min: 0, max: 2000, ticks: [0, 500, 1000, 1500, 2000], data: lesData, dy: 25 },
      { min: 190, max: 2001, ticks: [500, 1000, 1500, 2000], data: radarData, dy: 31.4 },
    ];
    const grid: any[] = [], xAxis: any[] = [], yAxis: any[] = [], series: any[] = [];
    const line = { show: true, onZero: false, lineStyle: { color: "#000", width: 1.4 } };
    const tick = { show: true, inside: true, length: 6, lineStyle: { color: "#222", width: 1.2 } };
    ranges.forEach((r, i) => {
      const g = gridBoxes[i];
      grid.push({ left: LEFT, width: WIDTH, top: g.top, height: g.height, outerBoundsMode: "none" });
      const gi = grid.length - 1;
      const bx = xAxis.length, by = yAxis.length;
      xAxis.push({
        type: "value", gridIndex: gi, min: 0, max: 12, interval: 1, position: "bottom", z: 5,
        axisLine: line, axisTick: tick, splitLine: { show: false },
        axisLabel: { color: INK, fontSize: 19, fontFamily: FONT, margin: 5, formatter: (v: number) => timeLabels[Math.round(v)] },
        name: "UTC Time", nameLocation: "middle", nameGap: 29,
        nameTextStyle: { color: INK, fontSize: 21, fontFamily: FONT, padding: [0, 5, 0, 0] },
      });
      xAxis.push({
        type: "value", gridIndex: gi, min: 0, max: 12, interval: 1, position: "top", z: 5,
        axisLine: line, axisTick: tick, splitLine: { show: false }, axisLabel: { show: false },
      });
      yAxis.push({
        type: "value", gridIndex: gi, min: r.min, max: r.max, position: "left", z: 5,
        axisLine: line, splitLine: { show: false },
        axisTick: { ...tick, customValues: r.ticks },
        axisLabel: { color: INK, fontSize: 19, fontFamily: FONT, margin: 6, customValues: r.ticks, formatter: (v: number) => String(v) },
        name: "Height (m)", nameLocation: "middle", nameGap: 46,
        nameTextStyle: { color: INK, fontSize: 20.5, fontFamily: FONT },
      });
      yAxis.push({
        type: "value", gridIndex: gi, min: r.min, max: r.max, position: "right", z: 5,
        axisLine: line, splitLine: { show: false },
        axisTick: { ...tick, customValues: r.ticks }, axisLabel: { show: false },
      });
      series.push({
        type: "custom", xAxisIndex: bx, yAxisIndex: by, clip: true, z: 1, silent: true,
        renderItem: cells(0.1, r.dy), encode: { x: 0, y: 1 }, data: r.data,
      });

      grid.push({ left: CB_LEFT, width: CB_WIDTH, top: g.cbTop, height: CB_HEIGHT, outerBoundsMode: "none" });
      const cg = grid.length - 1;
      const cx = xAxis.length, cy = yAxis.length;
      xAxis.push({ type: "value", gridIndex: cg, min: 0, max: 1, position: "bottom", z: 5, axisLine: line, axisTick: { show: false }, axisLabel: { show: false }, splitLine: { show: false } });
      xAxis.push({ type: "value", gridIndex: cg, min: 0, max: 1, position: "top", z: 5, axisLine: line, axisTick: { show: false }, axisLabel: { show: false }, splitLine: { show: false } });
      yAxis.push({
        type: "value", gridIndex: cg, min: -25, max: 25, position: "right", z: 5,
        axisLine: line, splitLine: { show: false },
        axisTick: { show: true, inside: true, length: 3, lineStyle: { color: "#333" }, customValues: colorbarTicks },
        axisLabel: { color: INK, fontSize: 19, fontFamily: FONT, margin: 5, customValues: colorbarTicks, formatter: (v: number) => String(v).replace("-", "\u2212") },
      });
      yAxis.push({
        type: "value", gridIndex: cg, min: -25, max: 25, position: "left", z: 5,
        axisLine: line, splitLine: { show: false },
        axisTick: { show: true, inside: true, length: 3, lineStyle: { color: "#333" }, customValues: colorbarTicks },
        axisLabel: { show: false },
      });
      series.push({
        type: "custom", xAxisIndex: cx, yAxisIndex: cy, clip: true, z: 1, silent: true,
        renderItem: cells(0.5, 25 / 64), encode: { x: 0, y: 1 }, data: barLevels,
      });
    });
    chart.setOption({
      animation: false,
      backgroundColor: "#fff",
      grid, xAxis, yAxis, series,
      graphic: [
        ...titleParts(407, 30, "RadSim", "DBS", 288),
        ...titleParts(440, 338, "LES", null, 0),
        ...titleParts(415, 629, "Radar", "ARM", 270),
      ],
    });
    return () => chart.dispose();
  }, []);
  return <div ref={ref} style={{ position: "absolute", left: 0, top: 0, width: 1139, height: 894 }} />;
}
